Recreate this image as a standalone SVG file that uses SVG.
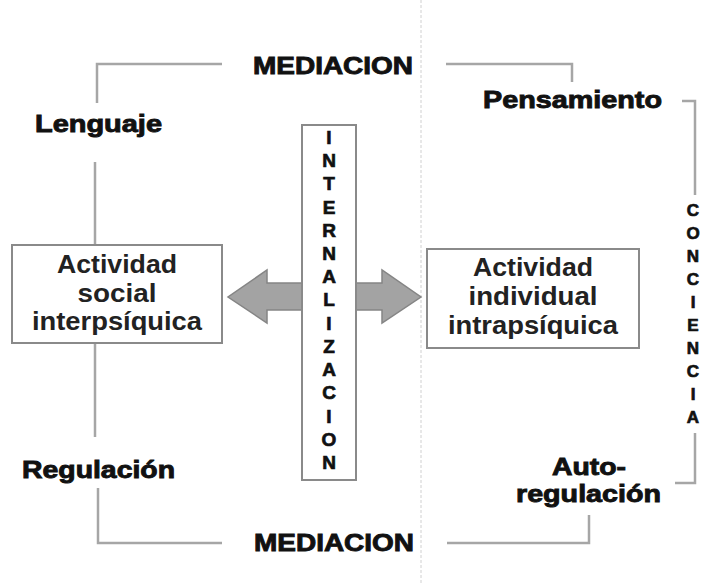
<svg xmlns="http://www.w3.org/2000/svg" width="705" height="585" viewBox="0 0 705 585">
<style>
.conn{fill:none;stroke:#a6a6a6;stroke-width:2.5}
.box{fill:#fff;stroke:#8a8a8a;stroke-width:2}
.lbl{font-family:"Liberation Sans",Arial,sans-serif;font-weight:bold;fill:#111;stroke:#111;stroke-width:0.9;font-size:24px}
.bt{font-family:"Liberation Sans",Arial,sans-serif;font-weight:bold;fill:#222;font-size:25px;text-anchor:middle}
.vl{font-family:"Liberation Sans",Arial,sans-serif;font-weight:bold;fill:#111;stroke:#111;stroke-width:0.7;font-size:19px;text-anchor:middle}
.arr{fill:#a3a3a3;stroke:#858585;stroke-width:1.5}
</style>
<rect width="705" height="585" fill="#fff"/>
<line x1="421" y1="0" x2="421" y2="585" stroke="#d0d0d0" stroke-width="1" stroke-dasharray="3 2"/>
<g id="connectors">
<polyline class="conn" points="222,64 97,64 97,103"/>
<line class="conn" x1="95" y1="162" x2="95" y2="245"/>
<line class="conn" x1="95" y1="343" x2="95" y2="437"/>
<polyline class="conn" points="98,488 98,543 222,543"/>
<polyline class="conn" points="446,64 572,64 572,82"/>
<polyline class="conn" points="682,101 695,101 695,195"/>
<polyline class="conn" points="695,433 695,483 675,483"/>
<polyline class="conn" points="447,543 589,543 589,515"/>
<polygon id="arrow-left" class="arr" points="302,283 267,283 267,270 228,297 267,323 267,310 302,310"/>
<polygon id="arrow-right" class="arr" points="356,283 382,283 382,270 421,297 382,323 382,310 356,310"/>
</g>
<g id="mediacion-top"><text class="lbl" x="253" y="74" textLength="160" lengthAdjust="spacingAndGlyphs">MEDIACION</text></g>
<g id="mediacion-bottom"><text class="lbl" x="254" y="551" textLength="160" lengthAdjust="spacingAndGlyphs">MEDIACION</text></g>
<g id="lenguaje"><text class="lbl" x="35" y="132" textLength="127" lengthAdjust="spacingAndGlyphs">Lenguaje</text></g>
<g id="regulacion"><text class="lbl" x="22" y="478" textLength="153" lengthAdjust="spacingAndGlyphs">Regulación</text></g>
<g id="pensamiento"><text class="lbl" x="483" y="108" textLength="179" lengthAdjust="spacingAndGlyphs">Pensamiento</text></g>
<g id="autoregulacion">
<text class="lbl" x="552" y="475" textLength="74" lengthAdjust="spacingAndGlyphs">Auto-</text>
<text class="lbl" x="516" y="502" textLength="145" lengthAdjust="spacingAndGlyphs">regulación</text>
</g>
<g id="actividad-social">
<rect class="box" x="12" y="245" width="210" height="98"/>
<text class="bt" x="117" y="273" textLength="120" lengthAdjust="spacingAndGlyphs">Actividad</text>
<text class="bt" x="117" y="302" textLength="79" lengthAdjust="spacingAndGlyphs">social</text>
<text class="bt" x="117" y="330" textLength="170" lengthAdjust="spacingAndGlyphs">interpsíquica</text>
</g>
<g id="actividad-individual">
<rect class="box" x="427" y="249" width="212" height="99"/>
<text class="bt" x="533" y="276" textLength="120" lengthAdjust="spacingAndGlyphs">Actividad</text>
<text class="bt" x="533" y="305" textLength="129" lengthAdjust="spacingAndGlyphs">individual</text>
<text class="bt" x="533" y="334" textLength="170" lengthAdjust="spacingAndGlyphs">intrapsíquica</text>
</g>
<g id="internalizacion">
<rect class="box" x="302" y="125" width="54" height="355"/>
<text class="vl" x="329" y="144">I</text>
<text class="vl" x="329" y="167">N</text>
<text class="vl" x="329" y="190">T</text>
<text class="vl" x="329" y="214">E</text>
<text class="vl" x="329" y="237">R</text>
<text class="vl" x="329" y="260">N</text>
<text class="vl" x="329" y="283">A</text>
<text class="vl" x="329" y="306">L</text>
<text class="vl" x="329" y="330">I</text>
<text class="vl" x="329" y="353">Z</text>
<text class="vl" x="329" y="376">A</text>
<text class="vl" x="329" y="399">C</text>
<text class="vl" x="329" y="423">I</text>
<text class="vl" x="329" y="446">O</text>
<text class="vl" x="329" y="469">N</text>
</g>
<g id="conciencia">
<text class="vl" x="693" y="216" style="font-size:17px">C</text>
<text class="vl" x="693" y="239" style="font-size:17px">O</text>
<text class="vl" x="693" y="262" style="font-size:17px">N</text>
<text class="vl" x="693" y="285" style="font-size:17px">C</text>
<text class="vl" x="693" y="308" style="font-size:17px">I</text>
<text class="vl" x="693" y="331" style="font-size:17px">E</text>
<text class="vl" x="693" y="354" style="font-size:17px">N</text>
<text class="vl" x="693" y="377" style="font-size:17px">C</text>
<text class="vl" x="693" y="400" style="font-size:17px">I</text>
<text class="vl" x="693" y="423" style="font-size:17px">A</text>
</g>
</svg>
